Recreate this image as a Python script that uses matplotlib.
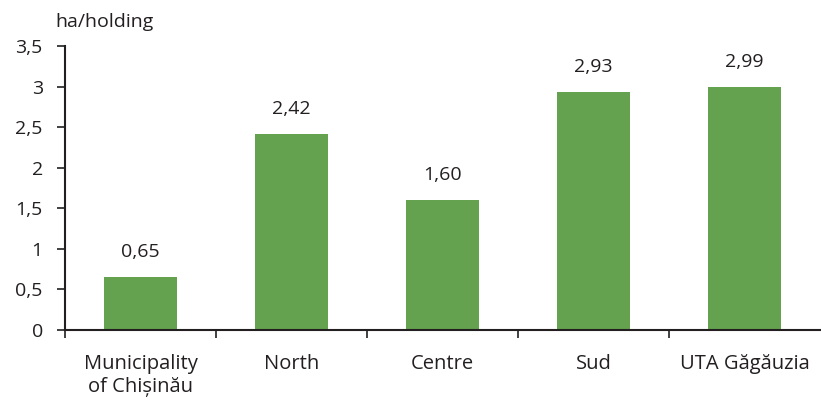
import numpy as np
import matplotlib; matplotlib.use("Agg")
import matplotlib.pyplot as plt
from matplotlib.ticker import FixedLocator, FuncFormatter

regions = ["Municipality\nof Chișinău", "North", "Centre", "Sud", "UTA Găgăuzia"]
size_ha = [0.65, 2.42, 1.60, 2.93, 2.99]
labels = ["0,65", "2,42", "1,60", "2,93", "2,99"]

TXT = "#231f20"
plt.rcParams["font.family"] = ["Open Sans", "DejaVu Sans"]
plt.rcParams["text.color"] = TXT

fig = plt.figure(figsize=(8.21, 4.01), dpi=100)
ax = fig.add_axes([0.0792, 0.177, 0.9196, 0.708])

x = np.arange(len(regions))
ax.bar(x, size_ha, width=0.48, color="#64a250")
for xi, v, s in zip(x, size_ha, labels):
    ax.annotate(s, (xi, v), xytext=(0, 18), textcoords="offset points",
                ha="center", va="center", fontsize=14, color=TXT)

ax.set_xlim(-0.5, len(regions) - 0.5)
ax.set_ylim(0, 3.5)
ax.set_yticks(np.arange(0, 3.51, 0.5))
ax.yaxis.set_major_formatter(FuncFormatter(lambda v, p: f"{v:g}".replace(".", ",")))
ax.set_xticks(x)
ax.set_xticklabels(regions, linespacing=1.2)
ax.xaxis.set_minor_locator(FixedLocator(np.arange(-0.5, len(regions) - 0.9, 1)))

for sp in ["top", "right"]:
    ax.spines[sp].set_visible(False)
for sp in ["left", "bottom"]:
    ax.spines[sp].set_linewidth(1.5)
    ax.spines[sp].set_color(TXT)

ax.tick_params(axis="y", direction="out", length=6, width=1.2, pad=10, labelsize=14, colors=TXT)
ax.tick_params(axis="x", which="major", length=0, pad=17, labelsize=14.5, colors=TXT)
ax.tick_params(axis="x", which="minor", direction="out", length=6, width=1.2, colors=TXT)

fig.text(55 / 821, 1 - 22 / 401, "ha/holding", ha="left", va="center", fontsize=14, color=TXT)

fig.savefig("out.png", dpi=100)
